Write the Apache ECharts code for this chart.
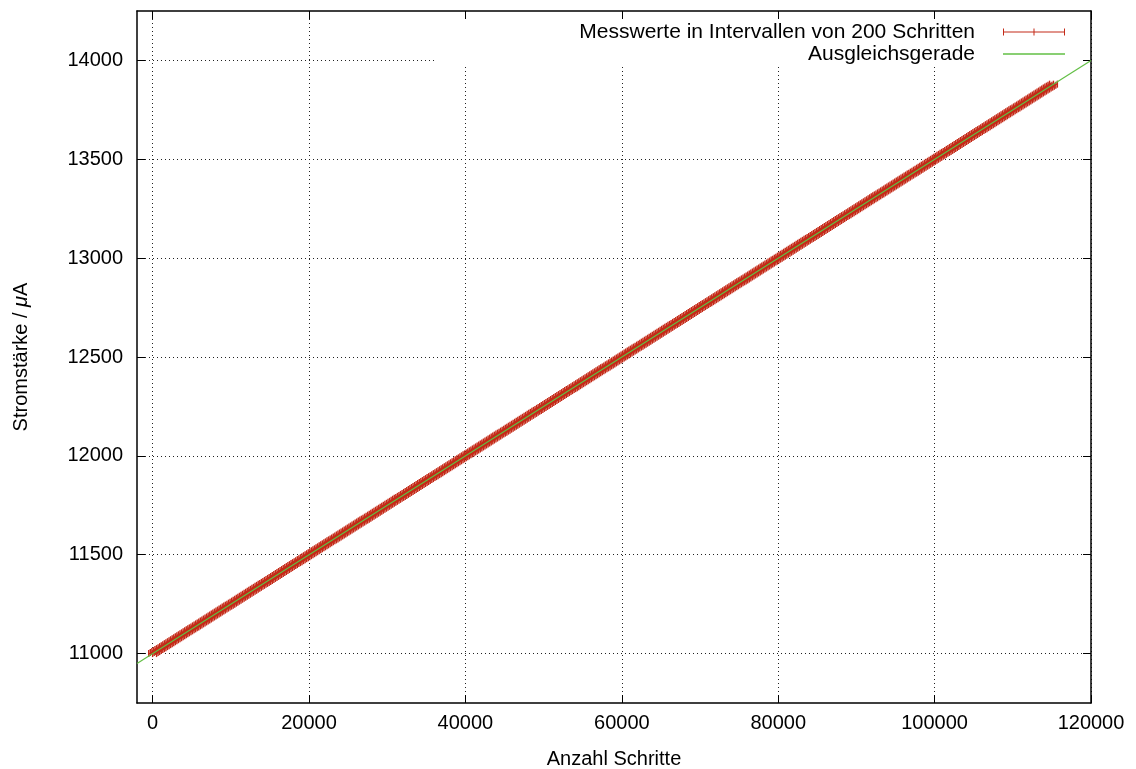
<!DOCTYPE html>
<html>
<head>
<meta charset="utf-8">
<script src="https://cdn.jsdelivr.net/npm/echarts@6/dist/echarts.min.js"></script>
<style>
  html, body { margin: 0; padding: 0; background: #fff; }
  #chart { width: 1136px; height: 769px; }
</style>
</head>
<body>
<div id="chart"></div>
<script>
// Messwerte: Stromstärke (µA), aufgenommen in Intervallen von 200 Schritten ab Schritt 0
const stepInterval = 200;
const stepError = 500; // horizontale Fehlerbalken (± Schritte)
const currentValues = [
  11000,11005,11010,11015,11020,11025,11030,11035,11040,11045,11050,11055,11060,11065,11070,11075,11080,11085,11090,11095,
  11100,11105,11110,11115,11120,11125,11130,11135,11140,11145,11150,11155,11160,11165,11170,11175,11180,11185,11190,11195,
  11200,11205,11210,11215,11220,11225,11230,11235,11240,11245,11250,11255,11260,11265,11270,11275,11280,11285,11290,11295,
  11300,11305,11310,11315,11320,11325,11330,11335,11340,11345,11350,11355,11360,11365,11370,11375,11380,11385,11390,11395,
  11400,11405,11410,11415,11420,11425,11430,11435,11440,11445,11450,11455,11460,11465,11470,11475,11480,11485,11490,11495,
  11500,11505,11510,11515,11520,11525,11530,11535,11540,11545,11550,11555,11560,11565,11570,11575,11580,11585,11590,11595,
  11600,11605,11610,11615,11620,11625,11630,11635,11640,11645,11650,11655,11660,11665,11670,11675,11680,11685,11690,11695,
  11700,11705,11710,11715,11720,11725,11730,11735,11740,11745,11750,11755,11760,11765,11770,11775,11780,11785,11790,11795,
  11800,11805,11810,11815,11820,11825,11830,11835,11840,11845,11850,11855,11860,11865,11870,11875,11880,11885,11890,11895,
  11900,11905,11910,11915,11920,11925,11930,11935,11940,11945,11950,11955,11960,11965,11970,11975,11980,11985,11990,11995,
  12000,12005,12010,12015,12020,12025,12030,12035,12040,12045,12050,12055,12060,12065,12070,12075,12080,12085,12090,12095,
  12100,12105,12110,12115,12120,12125,12130,12135,12140,12145,12150,12155,12160,12165,12170,12175,12180,12185,12190,12195,
  12200,12205,12210,12215,12220,12225,12230,12235,12240,12245,12250,12255,12260,12265,12270,12275,12280,12285,12290,12295,
  12300,12305,12310,12315,12320,12325,12330,12335,12340,12345,12350,12355,12360,12365,12370,12375,12380,12385,12390,12395,
  12400,12405,12410,12415,12420,12425,12430,12435,12440,12445,12450,12455,12460,12465,12470,12475,12480,12485,12490,12495,
  12500,12505,12510,12515,12520,12525,12530,12535,12540,12545,12550,12555,12560,12565,12570,12575,12580,12585,12590,12595,
  12600,12605,12610,12615,12620,12625,12630,12635,12640,12645,12650,12655,12660,12665,12670,12675,12680,12685,12690,12695,
  12700,12705,12710,12715,12720,12725,12730,12735,12740,12745,12750,12755,12760,12765,12770,12775,12780,12785,12790,12795,
  12800,12805,12810,12815,12820,12825,12830,12835,12840,12845,12850,12855,12860,12865,12870,12875,12880,12885,12890,12895,
  12900,12905,12910,12915,12920,12925,12930,12935,12940,12945,12950,12955,12960,12965,12970,12975,12980,12985,12990,12995,
  13000,13005,13010,13015,13020,13025,13030,13035,13040,13045,13050,13055,13060,13065,13070,13075,13080,13085,13090,13095,
  13100,13105,13110,13115,13120,13125,13130,13135,13140,13145,13150,13155,13160,13165,13170,13175,13180,13185,13190,13195,
  13200,13205,13210,13215,13220,13225,13230,13235,13240,13245,13250,13255,13260,13265,13270,13275,13280,13285,13290,13295,
  13300,13305,13310,13315,13320,13325,13330,13335,13340,13345,13350,13355,13360,13365,13370,13375,13380,13385,13390,13395,
  13400,13405,13410,13415,13420,13425,13430,13435,13440,13445,13450,13455,13460,13465,13470,13475,13480,13485,13490,13495,
  13500,13505,13510,13515,13520,13525,13530,13535,13540,13545,13550,13555,13560,13565,13570,13575,13580,13585,13590,13595,
  13600,13605,13610,13615,13620,13625,13630,13635,13640,13645,13650,13655,13660,13665,13670,13675,13680,13685,13690,13695,
  13700,13705,13710,13715,13720,13725,13730,13735,13740,13745,13750,13755,13760,13765,13770,13775,13780,13785,13790,13795,
  13800,13805,13810,13815,13820,13825,13830,13835,13840,13845,13850,13855,13860,13865,13870,13875,13880
];

// Ausgleichsgerade I(n) = fitIntercept + fitSlope * n
const fitIntercept = 11000;
const fitSlope = 0.025;

// Achsen
const xRange = [-2000, 120000];
const yRange = [10750, 14250];
const xTicks = [0, 20000, 40000, 60000, 80000, 100000, 120000];
const yTicks = [11000, 11500, 12000, 12500, 13000, 13500, 14000];

const seriesNames = ['Messwerte in Intervallen von 200 Schritten', 'Ausgleichsgerade'];

const RED = '#c42a18';
const GREEN = '#62bf45';
const FONT = '"Liberation Sans", Arial, Helvetica, sans-serif';
const FS = 20;
const FS_KEY = 21;

const measured = currentValues.map((v, i) => [i * stepInterval, v]);
const fitLine = xRange.map(x => [x, fitIntercept + fitSlope * x]);

const chart = echarts.init(document.getElementById('chart'), null, { renderer: 'canvas' });

const plain = v => String(v);

const baseAxis = {
  axisLine: { show: true, onZero: false, lineStyle: { color: '#000', width: 1.5 } },
  axisTick: { show: true, inside: true, length: 8, lineStyle: { color: '#000', width: 1 } },
  axisLabel: { color: '#000', fontFamily: FONT, fontSize: FS, formatter: plain },
  splitLine: { show: true, lineStyle: { color: '#222', width: 1, type: [1, 3] } }
};

chart.setOption({
  animation: false,
  backgroundColor: '#fff',
  grid: { left: 137, right: 45, top: 11, bottom: 66, containLabel: false, outerBoundsMode: 'none' },
  legend: {
    orient: 'vertical',
    right: 66,
    top: 16,
    align: 'right',
    itemWidth: 62,
    itemHeight: 7,
    itemGap: 0,
    selectedMode: false,
    textStyle: { color: '#000', fontFamily: FONT, fontSize: FS_KEY, lineHeight: 22, padding: [0, 23, 0, 0] },
    data: [
      { name: seriesNames[0], icon: 'path://M0,3h62v1h-62zM0,0h1v7h-1zM30.5,0h1v7h-1zM61,0h1v7h-1z' },
      { name: seriesNames[1], icon: 'path://M0,3h62v1.4h-62z' }
    ]
  },
  graphic: [
    { type: 'rect', z: 1, silent: true, shape: { x: 436, y: 12, width: 654, height: 54 }, style: { fill: '#fff' } }
  ],
  xAxis: [
    Object.assign({}, baseAxis, {
      type: 'value', position: 'bottom', min: xRange[0], max: xRange[1],
      name: 'Anzahl Schritte', nameLocation: 'middle', nameGap: 46,
      nameTextStyle: { color: '#000', fontFamily: FONT, fontSize: FS },
      axisTick: Object.assign({}, baseAxis.axisTick, { customValues: xTicks }),
      axisLabel: Object.assign({}, baseAxis.axisLabel, { customValues: xTicks, margin: 10 })
    }),
    {
      type: 'value', position: 'top', min: xRange[0], max: xRange[1], z: 3,
      axisLine: { show: true, onZero: false, lineStyle: { color: '#000', width: 1.5 } },
      axisTick: { show: true, inside: true, length: 8, customValues: xTicks, lineStyle: { color: '#000' } },
      axisLabel: { show: false },
      splitLine: { show: false }
    }
  ],
  yAxis: [
    Object.assign({}, baseAxis, {
      type: 'value', position: 'left', min: yRange[0], max: yRange[1],
      name: '{a|Stromstärke / }{b|μ}{a|A}', nameLocation: 'middle', nameGap: 106,
      nameTextStyle: {
        rich: {
          a: { color: '#000', fontFamily: FONT, fontSize: FS },
          b: { color: '#000', fontFamily: FONT, fontSize: FS, fontStyle: 'italic' }
        }
      },
      axisTick: Object.assign({}, baseAxis.axisTick, { customValues: yTicks }),
      axisLabel: Object.assign({}, baseAxis.axisLabel, { customValues: yTicks, margin: 14 })
    }),
    {
      type: 'value', position: 'right', min: yRange[0], max: yRange[1], z: 3,
      axisLine: { show: true, onZero: false, lineStyle: { color: '#000', width: 1.5 } },
      axisTick: { show: true, inside: true, length: 8, customValues: yTicks, lineStyle: { color: '#000' } },
      axisLabel: { show: false },
      splitLine: { show: false }
    }
  ],
  series: [
    {
      name: seriesNames[0],
      type: 'custom',
      xAxisIndex: 0,
      yAxisIndex: 0,
      z: 2,
      itemStyle: { color: RED },
      clip: true,
      data: measured,
      renderItem: function (params, api) {
        const x = api.value(0);
        const y = api.value(1);
        const l = api.coord([x - stepError, y]);
        const r = api.coord([x + stepError, y]);
        const c = api.coord([x, y]);
        const h = 3.5;
        const st = { stroke: RED, lineWidth: 1.4, fill: null };
        return {
          type: 'group',
          children: [
            { type: 'line', shape: { x1: l[0], y1: l[1], x2: r[0], y2: r[1] }, style: st },
            { type: 'line', shape: { x1: l[0], y1: l[1] - h, x2: l[0], y2: l[1] + h }, style: st },
            { type: 'line', shape: { x1: r[0], y1: r[1] - h, x2: r[0], y2: r[1] + h }, style: st },
            { type: 'line', shape: { x1: c[0], y1: c[1] - h, x2: c[0], y2: c[1] + h }, style: st }
          ]
        };
      }
    },
    {
      name: seriesNames[1],
      type: 'line',
      xAxisIndex: 0,
      yAxisIndex: 0,
      z: 3,
      symbol: 'none',
      color: GREEN,
      lineStyle: { color: GREEN, width: 1.2 },
      data: fitLine
    }
  ]
});
</script>
</body>
</html>
